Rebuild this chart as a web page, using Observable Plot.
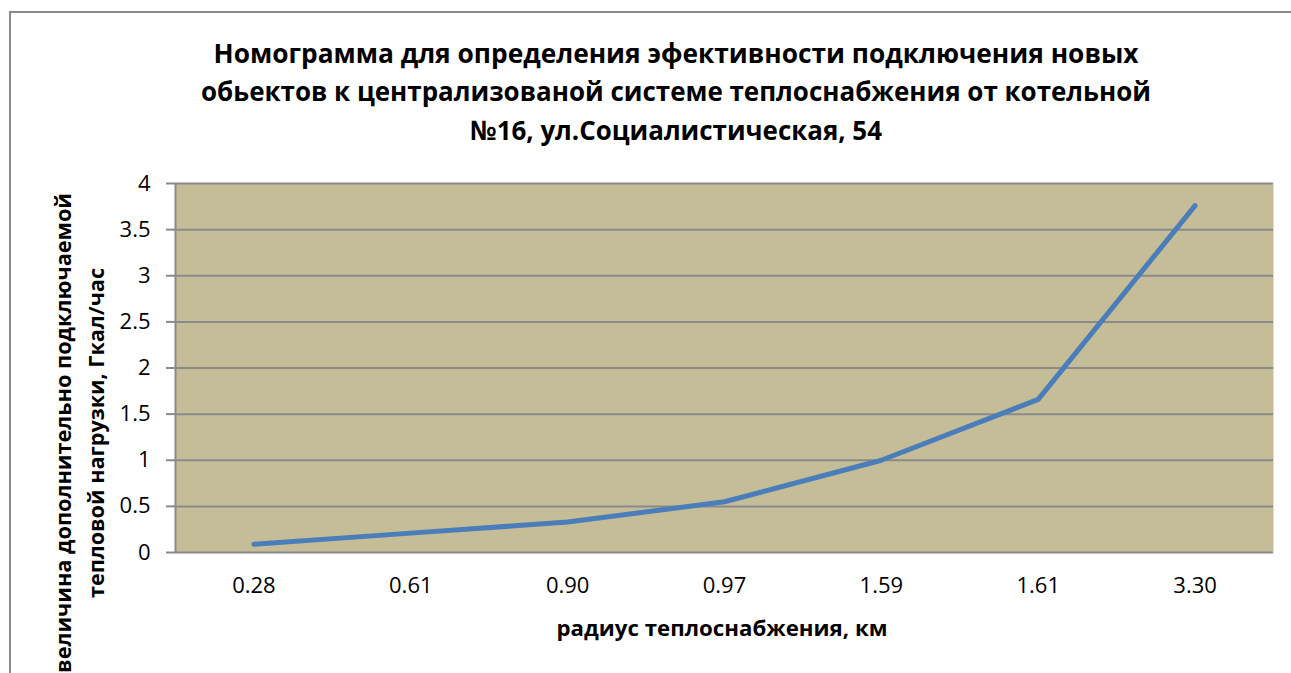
<!DOCTYPE html>
<html>
<head>
<meta charset="utf-8">
<script src="https://cdn.jsdelivr.net/npm/d3@7"></script>
<script src="https://cdn.jsdelivr.net/npm/@observablehq/plot@0.6"></script>
<style>
  html, body { margin: 0; padding: 0; background: #fff; }
  #wrap { position: relative; width: 1291px; height: 673px; overflow: hidden; font-family: "Open Sans", sans-serif; }
  #border { position: absolute; left: 9px; top: 11px; right: -10px; bottom: -10px; border-top: 2px solid #8a8a8a; border-left: 2px solid #8a8a8a; }
  #chart { position: absolute; left: 0; top: 0; }
  #chart svg text { font-size: 22px; font-family: "Open Sans", sans-serif; }
  #overlay { position: absolute; left: 0; top: 0; }
</style>
</head>
<body>
<div id="wrap">
  <div id="border"></div>
  <div id="chart"></div>
  <svg id="overlay" width="1291" height="673"></svg>
</div>
<script>
const titleLines = [
  "Номограмма для определения эфективности подключения новых",
  "обьектов к централизованой системе теплоснабжения от котельной",
  "№16, ул.Социалистическая, 54"
];
const xTitle = "радиус теплоснабжения, км";
const yTitleLines = ["величина дополнительно подключаемой", "тепловой нагрузки, Гкал/час"];
const radius = ["0.28", "0.61", "0.90", "0.97", "1.59", "1.61", "3.30"];
const load = [0.09, 0.21, 0.33, 0.55, 1.00, 1.66, 3.76];
const yTicks = [0, 0.5, 1, 1.5, 2, 2.5, 3, 3.5, 4];

const data = radius.map((r, i) => ({i, r, v: load[i]}));
const idx = d3.range(radius.length);

const chart = Plot.plot({
  width: 1291,
  height: 673,
  marginLeft: 175,
  marginRight: 18,
  marginTop: 183,
  marginBottom: 121,
  style: {fontFamily: "Open Sans, sans-serif", fontSize: "22px", color: "#000", background: "transparent"},
  x: {domain: [-0.5, radius.length - 0.5]},
  y: {domain: [0, 4]},
  marks: [
    Plot.frame({fill: "#C4BD97", stroke: null}),
    Plot.gridY(yTicks, {stroke: "#8a8a8a", strokeOpacity: 1, strokeWidth: 2}),
    Plot.ruleX([-0.5], {stroke: "#8a8a8a", strokeWidth: 2}),
    Plot.axisY(yTicks, {tickSize: 9, stroke: "#8a8a8a", strokeWidth: 2, tickPadding: 16, label: null, fill: "#000", fontSize: 22, tickFormat: d => String(d)}),
    Plot.axisX(idx, {tickSize: 0, tickPadding: 25, label: null, fill: "#000", fontSize: 22, tickFormat: i => radius[i]}),
    Plot.line(data, {x: "i", y: "v", stroke: "#4A7EBB", strokeWidth: 5, strokeLinecap: "round", strokeLinejoin: "round"})
  ]
});
document.getElementById("chart").appendChild(chart);

// overlay texts
const ov = d3.select("#overlay");
const titleY = [52, 90, 129];
const titleW = [925, 950, 412];
titleLines.forEach((t, k) => {
  ov.append("text")
    .attr("x", 676).attr("y", titleY[k])
    .attr("text-anchor", "middle").attr("dominant-baseline", "central")
    .attr("font-family", "Open Sans, sans-serif").attr("font-weight", "bold").attr("font-size", 27)
    .attr("textLength", titleW[k]).attr("lengthAdjust", "spacingAndGlyphs")
    .text(t);
});
ov.append("text")
  .attr("x", 722).attr("y", 628)
  .attr("text-anchor", "middle").attr("dominant-baseline", "central")
  .attr("font-family", "Open Sans, sans-serif").attr("font-weight", "bold").attr("font-size", 21)
  .attr("textLength", 331).attr("lengthAdjust", "spacingAndGlyphs")
  .text(xTitle);
const yx = [63, 96];
const yLen = [480, 330];
yTitleLines.forEach((t, k) => {
  ov.append("text")
    .attr("transform", `translate(${yx[k]},433) rotate(-90)`)
    .attr("text-anchor", "middle").attr("dominant-baseline", "central")
    .attr("font-family", "Open Sans, sans-serif").attr("font-weight", "bold").attr("font-size", 21)
    .attr("textLength", yLen[k]).attr("lengthAdjust", "spacingAndGlyphs")
    .text(t);
});
</script>
</body>
</html>
